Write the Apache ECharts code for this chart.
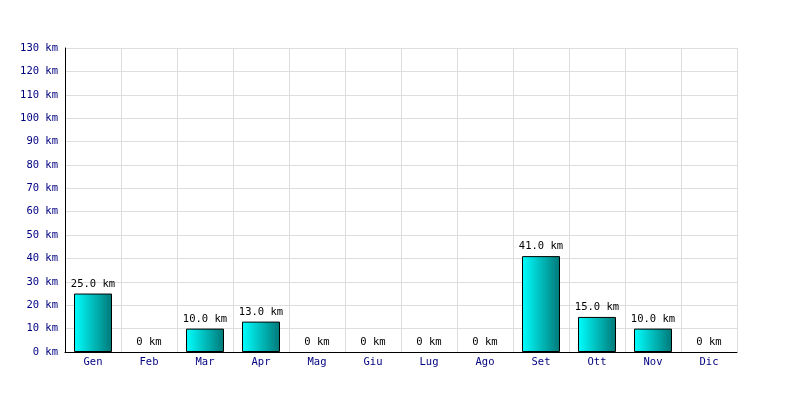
<!DOCTYPE html>
<html><head><meta charset="utf-8">
<script src="https://cdn.jsdelivr.net/npm/echarts@6/dist/echarts.min.js"></script>
<style>html,body{margin:0;padding:0;background:#fff}#c{width:800px;height:400px}</style>
</head><body><div id="c"></div>
<script>
const months = ['Gen','Feb','Mar','Apr','Mag','Giu','Lug','Ago','Set','Ott','Nov','Dic'];
const km = [25, 0, 10, 13, 0, 0, 0, 0, 41, 15, 10, 0];
const yMin = 0, yMax = 130, yStep = 10;
const font = 'DejaVu Sans Mono';
const chart = echarts.init(document.getElementById('c'), null, {renderer:'canvas'});
chart.setOption({
  animation:false,
  backgroundColor:'#fff',
  grid:{left:65,right:63,top:48,bottom:48,containLabel:false},
  xAxis:{type:'category',data:months,boundaryGap:true,
    axisLine:{lineStyle:{color:'#000',width:1}},
    axisTick:{show:false},
    axisLabel:{color:'#000080',fontFamily:font,fontSize:10.5,margin:5},
    splitLine:{show:true,lineStyle:{color:'#dddddd',width:1}}},
  yAxis:{type:'value',min:yMin,max:yMax,interval:yStep,
    axisLine:{show:true,lineStyle:{color:'#000',width:1}},
    axisTick:{show:false},
    axisLabel:{color:'#000080',fontFamily:font,fontSize:10.5,margin:7,formatter:v=>v+' km'},
    splitLine:{show:true,lineStyle:{color:'#dddddd',width:1}}},
  series:[{type:'bar',z:3,barWidth:38,
    data:km.map(v=>({value:v,itemStyle:{borderWidth:v>0?1:0}})),
    itemStyle:{borderColor:'#000',borderWidth:1,
      color:new echarts.graphic.LinearGradient(0,0,1,0,[{offset:0,color:'#00ffff'},{offset:1,color:'#007878'}])},
    label:{show:true,position:'top',distance:4,color:'#000',fontFamily:font,fontSize:10.5,
      formatter:p=>p.value>0?p.value.toFixed(1)+' km':'0 km'}}]
});
</script></body></html>
